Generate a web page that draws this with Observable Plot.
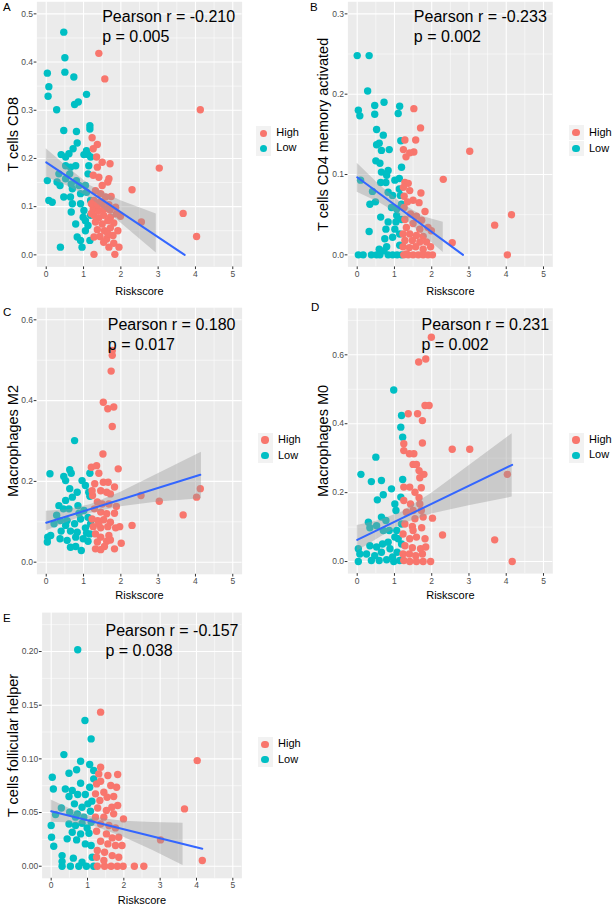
<!DOCTYPE html>
<html><head><meta charset="utf-8">
<script src="https://cdn.jsdelivr.net/npm/d3@7"></script>
<script src="https://cdn.jsdelivr.net/npm/@observablehq/plot@0.6"></script>
<style>
body{margin:0;background:#fff}
#fig{position:relative;width:612px;height:906px;background:#fff;font-family:"Liberation Sans",Arial,sans-serif;overflow:hidden}
#fig svg{position:absolute;overflow:visible}
.letter{position:absolute;font-size:11.5px;line-height:1;color:#000}
.lg{position:absolute;font-size:11px;color:#000}
.key{position:absolute;width:15px;height:15px;background:#F2F2F2}
.dotk{position:absolute;width:7.4px;height:7.4px;border-radius:50%}
.lgt{position:absolute;line-height:1;white-space:nowrap}
</style>
</head><body><div id="fig"></div>
<script>
// ---------- data ----------
const groups = ["High", "Low"];
const groupColors = ["#F8766D", "#00BFC4"];
const panelLetters = ["A", "B", "C", "D", "E"];
const yTitles = ["T cells CD8", "T cells CD4 memory activated", "Macrophages M2", "Macrophages M0", "T cells follicular helper"];
const pearsonR = ["-0.210", "-0.233", "0.180", "0.231", "-0.157"];
const pValues = ["0.005", "0.002", "0.017", "0.002", "0.038"];
const annX = [1.5, 1.52, 1.65, 1.725, 1.495];
const annY = [0.5124, 0.3075, 0.6106, 0.714, 0.2273];
const xTitle = "Riskscore";
const xTicks = [0, 1, 2, 3, 4, 5];
const xMinor = [0.5, 1.5, 2.5, 3.5, 4.5];
const yTicksA = [0, 0.1, 0.2, 0.3, 0.4, 0.5], yMinorA = [0.05, 0.15, 0.25, 0.35, 0.45];
const yTicksB = [0, 0.1, 0.2, 0.3], yMinorB = [0.05, 0.15, 0.25];
const yTicksC = [0, 0.2, 0.4, 0.6], yMinorC = [0.1, 0.3, 0.5];
const yTicksD = [0, 0.2, 0.4, 0.6], yMinorD = [0.1, 0.3, 0.5, 0.7];
const yTicksE = [0, 0.05, 0.1, 0.15, 0.2], yMinorE = [0.025, 0.075, 0.125, 0.175, 0.225];

const aLow = [[0.47,0.462],[0.5,0.409],[0.5,0.379],[0.03,0.377],[0.07,0.349],[0.05,0.329],[0.74,0.369],[1.08,0.333],[0.86,0.317],[0.76,0.312],[0.28,0.301],[1.17,0.268],[1.17,0.261],[0.47,0.258],[0.81,0.256],[0.83,0.232],[0.4,0.208],[0.61,0.21],[0.72,0.22],[1.01,0.208],[1.12,0.208],[1.08,0.216],[0.03,0.154],[0.07,0.113],[0.16,0.109],[0.34,0.168],[0.29,0.151],[0.37,0.144],[0.52,0.185],[0.65,0.182],[0.79,0.185],[0.63,0.168],[0.52,0.158],[0.67,0.147],[0.81,0.154],[0.88,0.144],[0.7,0.137],[0.65,0.12],[0.47,0.12],[0.7,0.106],[0.67,0.089],[0.92,0.106],[1.01,0.092],[1.08,0.13],[1.19,0.203],[1.14,0.185],[1.12,0.168],[0.99,0.078],[0.79,0.064],[0.83,0.037],[0.92,0.03],[0.96,0.016],[0.38,0.016],[1.17,0.03],[1.05,0.05],[1.12,0.061],[1.05,0.071],[1.19,0.082],[1.19,0.113],[1.05,0.144],[0.92,0.127],[0.52,0.203]];
const aHigh = [[1.41,0.418],[1.57,0.365],[4.13,0.301],[3.03,0.18],[2.3,0.135],[3.67,0.086],[4.03,0.038],[2.55,0.068],[1.99,0.08],[1.28,0.001],[1.84,0.001],[1.23,0.243],[1.37,0.229],[1.26,0.22],[1.35,0.203],[1.5,0.192],[1.71,0.189],[1.37,0.182],[1.26,0.165],[1.41,0.161],[1.68,0.158],[1.65,0.151],[1.5,0.144],[1.32,0.133],[1.46,0.127],[1.59,0.12],[1.74,0.121],[1.28,0.113],[1.44,0.109],[1.68,0.104],[1.26,0.095],[1.41,0.092],[1.56,0.095],[1.71,0.093],[1.86,0.099],[1.28,0.082],[1.41,0.077],[1.54,0.082],[1.72,0.078],[1.88,0.085],[1.32,0.068],[1.5,0.064],[1.65,0.071],[1.81,0.066],[1.37,0.052],[1.56,0.05],[1.72,0.056],[1.92,0.05],[1.28,0.037],[1.44,0.038],[1.62,0.033],[1.79,0.04],[1.95,0.016],[1.68,0.016],[1.81,0.024],[1.54,0.026],[1.65,0.044],[1.21,0.086],[1.21,0.106],[1.37,0.104],[1.5,0.106]];

const bLow = [[0,0.248],[0.32,0.248],[0.28,0.204],[0.03,0.18],[0.07,0.173],[0.47,0.186],[0.47,0.175],[0.72,0.19],[1.1,0.176],[1.14,0.185],[0.52,0.156],[0.7,0.149],[0.52,0.137],[0.59,0.139],[0.65,0.13],[0.86,0.131],[1.17,0.142],[0.5,0.117],[0.61,0.114],[1.19,0.109],[0.83,0.105],[0.65,0.103],[0.79,0.099],[0.63,0.09],[0.77,0.09],[1.01,0.093],[1.13,0.095],[0.09,0.093],[0.41,0.079],[0.49,0.066],[0.34,0.063],[0.83,0.078],[0.95,0.074],[1.16,0.074],[1.13,0.082],[0.92,0.059],[1.06,0.057],[1.19,0.063],[0.63,0.047],[0.83,0.041],[1.04,0.041],[1.19,0.044],[0.77,0.032],[1.01,0.032],[0.32,0.029],[0.74,0.02],[0.95,0.022],[1.14,0.026],[0.59,0.007],[0.79,0.01],[1.14,0.012],[0.03,0],[0.16,0],[0.38,0],[0.61,0],[0.95,0],[1.07,0],[1.19,0],[0.83,0],[0.52,0],[0.72,0.005],[1.06,0.049]];
const bHigh = [[1.52,0.182],[1.7,0.158],[1.28,0.143],[1.57,0.143],[1.24,0.131],[1.41,0.127],[1.52,0.128],[1.31,0.122],[3.02,0.129],[2.31,0.094],[4.14,0.05],[3.69,0.037],[4.03,0],[2.55,0.015],[1.28,0.09],[1.37,0.089],[1.24,0.084],[1.41,0.08],[1.71,0.077],[1.26,0.073],[1.5,0.068],[1.35,0.066],[1.66,0.065],[1.82,0.054],[1.26,0.059],[1.43,0.051],[1.59,0.048],[1.73,0.043],[1.28,0.044],[1.32,0.034],[1.5,0.039],[1.68,0.032],[1.9,0.034],[1.99,0.03],[1.23,0.026],[1.41,0.026],[1.59,0.024],[1.77,0.023],[1.28,0.018],[1.48,0.018],[1.68,0.016],[1.86,0.016],[1.23,0.01],[1.4,0.009],[1.57,0.01],[1.77,0.007],[1.97,0.01],[1.25,0],[1.37,0],[1.5,0],[1.64,0],[1.77,0],[1.9,0],[2.02,0],[1.32,0.001]];

const cLow = [[0.76,0.301],[0.1,0.219],[0.47,0.212],[0.52,0.202],[0.63,0.229],[0.67,0.22],[0.96,0.202],[1.17,0.22],[1.05,0.19],[1.14,0.173],[1.17,0.163],[0.63,0.182],[0.83,0.173],[0.7,0.161],[0.34,0.14],[0.52,0.153],[0.46,0.132],[0.61,0.132],[0.85,0.14],[1.01,0.128],[0.28,0.116],[0.38,0.103],[0.56,0.103],[0.76,0.095],[0.92,0.107],[1.12,0.111],[0.88,0.121],[1.19,0.095],[1.05,0.085],[0.04,0.062],[0.12,0.066],[0.03,0.05],[0.4,0.077],[0.65,0.077],[0.83,0.074],[1.08,0.072],[0.37,0.058],[0.56,0.054],[0.79,0.062],[0.99,0.058],[1.17,0.07],[0.65,0.037],[0.79,0.039],[0.94,0.029],[1.12,0.052],[0.21,0.095],[0.52,0.091]];
const cHigh = [[1.77,0.524],[1.77,0.512],[1.74,0.473],[1.53,0.396],[1.65,0.38],[1.81,0.384],[1.77,0.336],[1.52,0.268],[1.93,0.231],[1.21,0.235],[1.35,0.239],[1.41,0.22],[2.54,0.165],[3.03,0.151],[3.67,0.117],[4.03,0.161],[4.13,0.182],[2.3,0.091],[2.01,0.047],[1.83,0.033],[1.3,0.194],[1.53,0.198],[1.66,0.198],[1.46,0.177],[1.62,0.173],[1.72,0.169],[1.83,0.186],[1.24,0.165],[1.37,0.149],[1.5,0.144],[1.68,0.144],[1.88,0.138],[1.29,0.132],[1.46,0.124],[1.62,0.12],[1.83,0.121],[1.23,0.107],[1.38,0.103],[1.54,0.105],[1.72,0.099],[1.26,0.088],[1.46,0.085],[1.65,0.088],[1.86,0.085],[1.97,0.088],[1.32,0.07],[1.46,0.062],[1.68,0.066],[1.37,0.05],[1.62,0.052],[1.72,0.055],[1.32,0.033],[1.46,0.031],[1.56,0.039],[1.23,0.177],[1.41,0.095]];

const dLow = [[0.98,0.498],[1.19,0.424],[1.17,0.39],[1.22,0.361],[0.5,0.303],[0.1,0.253],[0.38,0.232],[0.65,0.235],[1.22,0.238],[0.92,0.211],[0.7,0.194],[0.54,0.179],[1.17,0.187],[1.01,0.167],[1.04,0.148],[0.3,0.114],[0.34,0.098],[0.52,0.104],[0.65,0.129],[0.77,0.119],[0.86,0.09],[0.7,0.09],[1.06,0.09],[1.19,0.109],[1.01,0.071],[0.83,0.056],[0.68,0.051],[0.52,0.042],[0.34,0.046],[0.03,0.037],[0.07,0.022],[0.25,0.022],[0.47,0.017],[0.65,0.027],[0.88,0.037],[1.07,0.027],[1.19,0.051],[0.03,0],[0.38,0.003],[0.59,0.003],[0.79,0.005],[0.98,0],[1.14,0.003],[0.95,0.013],[1.1,0.066]];
const dHigh = [[1.99,0.651],[1.65,0.579],[1.84,0.588],[1.82,0.453],[1.93,0.453],[1.37,0.429],[1.62,0.429],[1.75,0.409],[1.75,0.344],[1.25,0.342],[1.25,0.322],[1.4,0.313],[1.52,0.313],[2.55,0.326],[3.02,0.326],[1.5,0.282],[1.59,0.282],[1.66,0.264],[1.79,0.253],[1.68,0.243],[4.03,0.253],[1.25,0.216],[1.41,0.216],[1.72,0.214],[1.55,0.201],[1.25,0.177],[1.43,0.167],[1.66,0.185],[1.68,0.167],[1.72,0.148],[1.5,0.148],[1.32,0.143],[2.02,0.126],[1.77,0.129],[1.55,0.124],[1.28,0.109],[1.48,0.102],[1.73,0.098],[2.29,0.077],[3.69,0.063],[4.16,0],[1.23,0.08],[1.41,0.066],[1.59,0.071],[1.82,0.066],[1.28,0.046],[1.48,0.04],[1.7,0.037],[1.84,0.042],[1.23,0.022],[1.4,0.022],[1.57,0.017],[1.75,0.022],[1.25,0.003],[1.41,0],[1.59,0],[1.77,0],[1.97,0],[1.5,0.09]];

const eLow = [[0.73,0.2016],[0.93,0.1357],[1.1,0.1186],[0.35,0.104],[0.81,0.0978],[0.49,0.0866],[0.7,0.0898],[1.06,0.0947],[1.17,0.0891],[0.03,0.0829],[0.06,0.072],[0.39,0.072],[0.58,0.0705],[0.81,0.0773],[1.06,0.0736],[1.17,0.0814],[0.49,0.0649],[0.73,0.0668],[0.94,0.0668],[0.64,0.0581],[0.85,0.055],[1.01,0.0581],[1.12,0.0606],[0.28,0.0543],[0.12,0.0481],[0.51,0.0503],[0.72,0.0488],[1.08,0.0512],[0,0.0379],[0.49,0.0394],[0.67,0.0379],[0.85,0.04],[0.99,0.0357],[1.1,0.041],[0.58,0.0317],[0.81,0.0301],[1.04,0.0307],[0.01,0.027],[0.44,0.0255],[0.7,0.0245],[0.94,0.0208],[0.07,0.0186],[1.1,0.0193],[0.3,0.0099],[0.61,0.0075],[0.85,0.0037],[0.3,0.0043],[0.53,0],[0.76,0],[0.97,0],[0.3,0],[1.13,0.0084],[1.17,0],[0.67,0.0457],[0.9,0.0457]];
const eHigh = [[1.36,0.1435],[4.02,0.0984],[3.67,0.0534],[3.01,0.0245],[4.16,0.0053],[2.29,0],[2.55,0],[1.36,0.0922],[1.31,0.086],[1.56,0.0845],[1.83,0.0854],[1.25,0.0767],[1.36,0.0792],[1.64,0.0752],[1.8,0.0736],[1.22,0.0674],[1.45,0.0689],[1.54,0.0643],[1.72,0.0649],[1.34,0.0612],[1.83,0.0565],[1.28,0.0543],[1.52,0.0519],[1.67,0.055],[1.22,0.0457],[1.45,0.0457],[1.72,0.0488],[1.99,0.0441],[1.36,0.0394],[1.59,0.0379],[1.77,0.0357],[1.25,0.0326],[1.52,0.0301],[1.68,0.0264],[1.86,0.027],[1.36,0.0233],[1.56,0.0208],[1.77,0.0193],[1.95,0.0193],[1.27,0.0146],[1.47,0.013],[1.68,0.0099],[1.86,0.0084],[1.25,0.0084],[1.27,0],[1.47,0],[1.65,0],[1.82,0],[1.98,0],[1.45,0.0053]];

// fitted lines (start, end) and confidence bands
const lineA = [[0, 0.192], [3.71, 0]];
const lineB = [[0, 0.0966], [2.84, 0]];
const lineC = [[0, 0.0975], [4.13, 0.2163]];
const lineD = [[0, 0.063], [4.16, 0.2807]];
const lineE = [[0, 0.0512], [4.16, 0.0162]];
const bandAx = [0, 0.6, 1.2, 2.0, 2.95], bandAlo = [0.161, 0.142, 0.117, 0.066, 0.004], bandAhi = [0.22, 0.18, 0.143, 0.112, 0.085];
const bandBx = [0, 0.6, 1.2, 1.8, 2.31], bandBlo = [0.078, 0.065, 0.048, 0.023, 0.003], bandBhi = [0.114, 0.087, 0.064, 0.047, 0.0406];
const bandCx = [0, 0.6, 1.2, 2.0, 3.0, 4.16], bandClo = [0.077, 0.1, 0.121, 0.137, 0.149, 0.157], bandChi = [0.126, 0.13, 0.143, 0.173, 0.219, 0.272];
const bandDx = [0, 0.6, 1.2, 2.0, 3.0, 4.16], bandDlo = [0.03, 0.069, 0.108, 0.138, 0.162, 0.187], bandDhi = [0.1045, 0.119, 0.144, 0.198, 0.278, 0.371];
const bandEx = [0, 0.6, 1.2, 2.0, 2.8, 3.63], bandElo = [0.041, 0.0402, 0.0371, 0.0269, 0.0147, 0.0007], bandEhi = [0.0618, 0.0522, 0.0451, 0.0419, 0.0407, 0.04];

// ---------- layout (pixels) ----------
const FONT = '"Liberation Sans", Arial, sans-serif';
const xDomain = [-0.25, 5.25];
const panels = [
  {low: aLow, high: aHigh, line: lineA, bx: bandAx, blo: bandAlo, bhi: bandAhi, yTicks: yTicksA, yMinor: yMinorA, fmt: ".1f",
   yDomain: [-0.025, 0.525], svg: [0, 0, 306, 300], frame: [36.4, 241.6, 1.3, 266.4], ytdx: -23.4, xtdy: 24.5,
   letter: [3, 2], legend: [263.3, 133.3, 15]},
  {low: bLow, high: bHigh, line: lineB, bx: bandBx, blo: bandBlo, bhi: bandBhi, yTicks: yTicksB, yMinor: yMinorB, fmt: ".1f",
   yDomain: [-0.015, 0.315], svg: [306, 0, 306, 300], frame: [347.4, 552.3, 1.3, 266.4], ytdx: -24.4, xtdy: 24.5,
   letter: [310, 1.5], legend: [576, 132.7, 16]},
  {low: cLow, high: cHigh, line: lineC, bx: bandCx, blo: bandClo, bhi: bandChi, yTicks: yTicksC, yMinor: yMinorC, fmt: ".1f",
   yDomain: [-0.03, 0.63], svg: [0, 300, 306, 300], frame: [36.4, 241.6, 307.2, 573.8], ytdx: -23.7, xtdy: 21.5,
   letter: [3, 306.5], legend: [265, 440, 15.7]},
  {low: dLow, high: dHigh, line: lineD, bx: bandDx, blo: bandDlo, bhi: bandDhi, yTicks: yTicksD, yMinor: yMinorD, fmt: ".1f",
   yDomain: [-0.035, 0.735], svg: [306, 300, 306, 300], frame: [347.4, 552.3, 307.8, 573.1], ytdx: -24.4, xtdy: 21.5,
   letter: [311, 302], legend: [576, 440, 15.3]},
  {low: eLow, high: eHigh, line: lineE, bx: bandEx, blo: bandElo, bhi: bandEhi, yTicks: yTicksE, yMinor: yMinorE, fmt: ".2f",
   yDomain: [-0.01125, 0.23625], svg: [0, 600, 306, 306], frame: [41.6, 241.4, 612.1, 877.8], ytdx: -28.9, xtdy: 22.5,
   letter: [3, 612.5], legend: [265, 744.3, 15.4]}
];

const fig = document.getElementById("fig");

panels.forEach((p, i) => {
  const [sl, st, sw, sh] = p.svg;
  const [fx0, fx1, fy0, fy1] = p.frame;
  const pts = [
    ...p.low.map(([x, y]) => ({x, y, g: "Low"})),
    ...p.high.map(([x, y]) => ({x, y, g: "High"}))
  ];
  const band = p.bx.map((x, k) => ({x, lo: p.blo[k], hi: p.bhi[k]}));
  const line = p.line.map(([x, y]) => ({x, y}));
  const ann = [{x: annX[i], y: annY[i], t: `Pearson r = ${pearsonR[i]}\np = ${pValues[i]}`}];
  const svg = Plot.plot({
    width: sw, height: sh,
    marginLeft: fx0 - sl, marginRight: sl + sw - fx1,
    marginTop: fy0 - st, marginBottom: st + sh - fy1,
    x: {domain: xDomain},
    y: {domain: p.yDomain},
    color: {domain: groups, range: groupColors},
    style: {fontFamily: FONT, fontSize: "8.5px", color: "#4D4D4D", background: "transparent", overflow: "visible"},
    marks: [
      Plot.frame({fill: "#EBEBEB", stroke: "none"}),
      Plot.ruleX(xMinor, {stroke: "#FFFFFF", strokeWidth: 0.55}),
      Plot.ruleY(p.yMinor, {stroke: "#FFFFFF", strokeWidth: 0.55}),
      Plot.ruleX(xTicks, {stroke: "#FFFFFF", strokeWidth: 1.1}),
      Plot.ruleY(p.yTicks, {stroke: "#FFFFFF", strokeWidth: 1.1}),
      Plot.axisX(xTicks, {tickSize: 2.7, tickPadding: 1.2, label: null, tickFormat: d => String(d), stroke: "#333333"}),
      Plot.axisY(p.yTicks, {tickSize: 2.7, tickPadding: 1.2, label: null, tickFormat: d3.format(p.fmt), stroke: "#333333"}),
      Plot.dot(pts, {x: "x", y: "y", fill: "g", r: 3.7}),
      Plot.areaY(band, {x: "x", y1: "lo", y2: "hi", fill: "#999999", fillOpacity: 0.4}),
      Plot.line(line, {x: "x", y: "y", stroke: "#3366FF", strokeWidth: 2}),
      Plot.text(ann, {x: "x", y: "y", text: "t", textAnchor: "start", lineAnchor: "top", fontSize: 16, lineHeight: 1.25, fill: "#000000"}),
      Plot.text([yTitles[i]], {text: d => d, frameAnchor: "left", rotate: -90, dx: p.ytdx, fontSize: 14.5, fill: "#000000", textAnchor: "middle", lineAnchor: "middle"}),
      Plot.text([xTitle], {text: d => d, frameAnchor: "bottom", dy: p.xtdy, fontSize: 11, fill: "#000000", textAnchor: "middle", lineAnchor: "middle"})
    ]
  });
  svg.style.left = sl + "px";
  svg.style.top = st + "px";
  fig.appendChild(svg);

  // panel letter
  const L = document.createElement("div");
  L.className = "letter";
  L.textContent = panelLetters[i];
  L.style.left = p.letter[0] + "px";
  L.style.top = p.letter[1] + "px";
  fig.appendChild(L);

  // legend
  const [lx, ly, lstep] = p.legend;
  groups.forEach((g, k) => {
    const cy = ly + k * lstep;
    const key = document.createElement("div");
    key.className = "key";
    key.style.left = (lx - 7.5) + "px";
    key.style.top = (cy - 7.5) + "px";
    fig.appendChild(key);
    const d = document.createElement("div");
    d.className = "dotk";
    d.style.background = groupColors[k];
    d.style.left = (lx - 3.7) + "px";
    d.style.top = (cy - 3.7) + "px";
    fig.appendChild(d);
    const t = document.createElement("div");
    t.className = "lg lgt";
    t.textContent = g;
    t.style.left = (lx + 13) + "px";
    t.style.top = (cy - 6) + "px";
    fig.appendChild(t);
  });
});
</script></body></html>
